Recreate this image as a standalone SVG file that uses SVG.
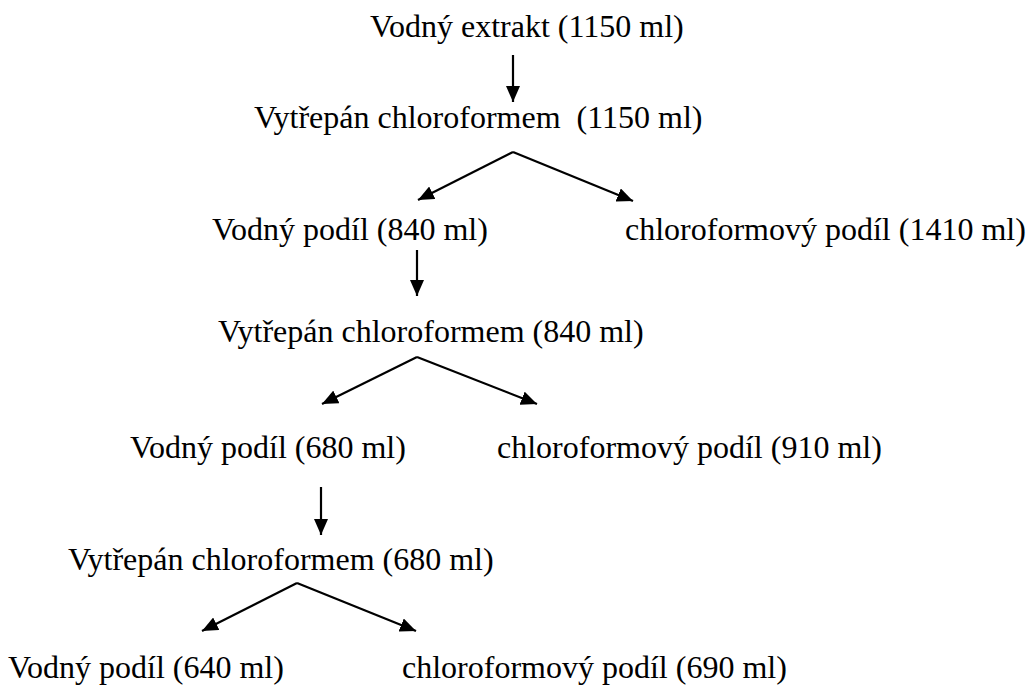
<svg xmlns="http://www.w3.org/2000/svg" width="1030" height="686" viewBox="0 0 1030 686">
<style>
text{font-family:"Liberation Serif","Times New Roman",serif;font-size:32px;fill:#000;white-space:pre}
.c{stroke:#000;stroke-width:2.2;fill:none}
</style>
<defs>
<marker id="ah" markerUnits="userSpaceOnUse" markerWidth="16" markerHeight="14" refX="16" refY="7" orient="auto"><path d="M0,0 L16,7 L0,14 z" fill="#000"/></marker>
</defs>
<rect width="1030" height="686" fill="#fff"/>
<g id="connectors">
<line class="c" x1="513" y1="55" x2="513" y2="102" marker-end="url(#ah)"/>
<line class="c" x1="513" y1="152" x2="418" y2="200" marker-end="url(#ah)"/>
<line class="c" x1="513" y1="152" x2="633" y2="201" marker-end="url(#ah)"/>
<line class="c" x1="417" y1="250" x2="417" y2="296" marker-end="url(#ah)"/>
<line class="c" x1="417" y1="357" x2="322" y2="404" marker-end="url(#ah)"/>
<line class="c" x1="417" y1="357" x2="537" y2="404" marker-end="url(#ah)"/>
<line class="c" x1="321" y1="487" x2="321" y2="535" marker-end="url(#ah)"/>
<line class="c" x1="297" y1="583" x2="202" y2="631" marker-end="url(#ah)"/>
<line class="c" x1="297" y1="583" x2="416" y2="631" marker-end="url(#ah)"/>
</g>
<g id="n1"><text x="370" y="37">Vodný extrakt (1150 ml)</text></g>
<g id="n2"><text x="254" y="128">Vytřepán chloroformem  (1150 ml)</text></g>
<g id="n3"><text x="212" y="240">Vodný podíl (840 ml)</text></g>
<g id="n4"><text x="625" y="240">chloroformový podíl (1410 ml)</text></g>
<g id="n5"><text x="218" y="342">Vytřepán chloroformem (840 ml)</text></g>
<g id="n6"><text x="130" y="458">Vodný podíl (680 ml)</text></g>
<g id="n7"><text x="497" y="458">chloroformový podíl (910 ml)</text></g>
<g id="n8"><text x="68" y="570">Vytřepán chloroformem (680 ml)</text></g>
<g id="n9"><text x="8" y="678">Vodný podíl (640 ml)</text></g>
<g id="n10"><text x="402" y="678">chloroformový podíl (690 ml)</text></g>
</svg>
